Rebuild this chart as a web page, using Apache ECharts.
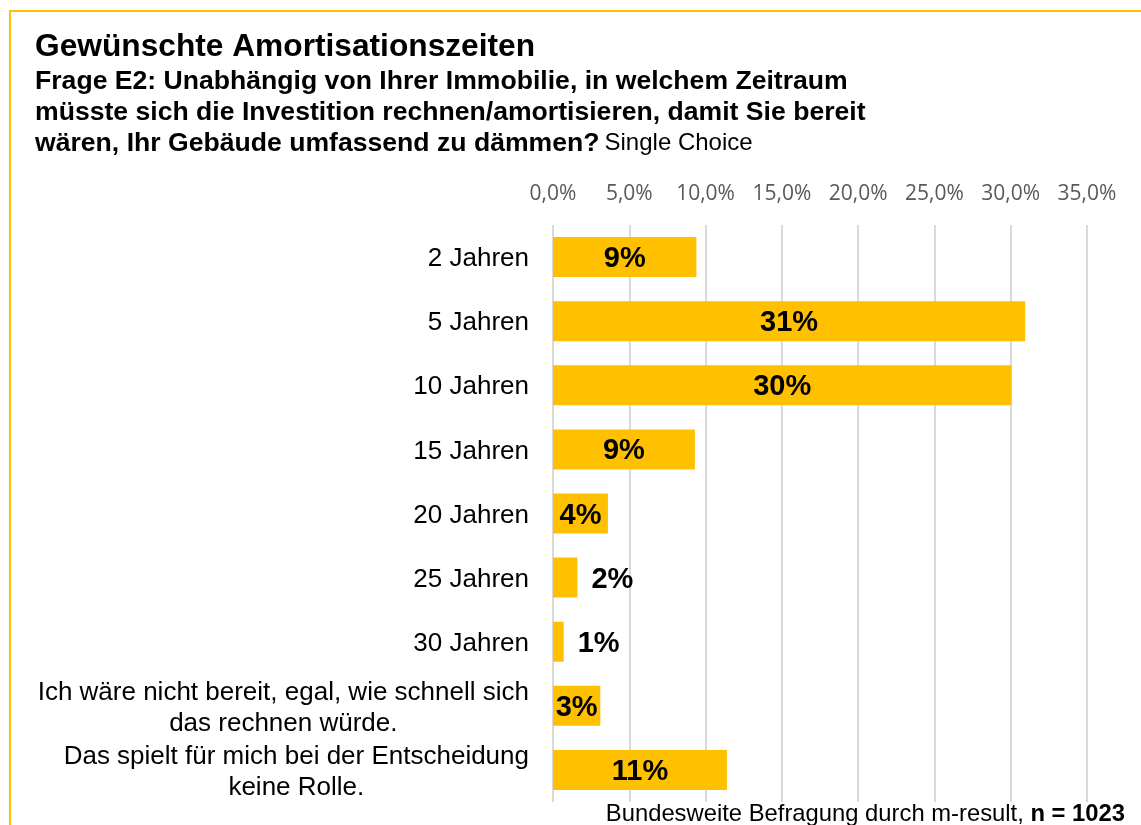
<!DOCTYPE html>
<html>
<head>
<meta charset="utf-8">
<title>Gewünschte Amortisationszeiten</title>
<script src="https://cdn.jsdelivr.net/npm/echarts@6/dist/echarts.min.js"></script>
<style>
  html, body { margin: 0; padding: 0; background: #fff; }
  #chart { width: 1141px; height: 825px; }
</style>
</head>
<body>
<div id="chart"></div>
<script>
// Antwortkategorien (von oben nach unten)
const categories = [
  '2 Jahren',
  '5 Jahren',
  '10 Jahren',
  '15 Jahren',
  '20 Jahren',
  '25 Jahren',
  '30 Jahren',
  'Ich wäre nicht bereit, egal, wie schnell sich\ndas rechnen würde.',
  'Das spielt für mich bei der Entscheidung\nkeine Rolle.'
]
// Anteile in Prozent
const shares = [9.4, 30.95, 30.05, 9.3, 3.6, 1.6, 0.7, 3.1, 11.4]
// X-Achse
const axisMin = 0
const axisMax = 35
const axisStep = 5

const FONT = '"Liberation Sans", Arial, sans-serif'
const YELLOW = '#FFC000'

let mycharts = echarts.init(document.getElementById('chart'))

// kleine Balken bekommen das Label rechts daneben
const barData = shares.map(v => {
  if (v < 2) {
    return { value: v, label: { position: 'right', distance: 14 } }
  }
  return v
})

mycharts.setOption({
  animation: false,
  backgroundColor: '#fff',
  //Rahmen
  graphic: [
    {
      type: 'rect',
      shape: { x: 10, y: 11, width: 1300, height: 1000 },
      style: { fill: 'none', stroke: YELLOW, lineWidth: 2 },
      silent: true
    }
  ],
  title: [
    {
      text: 'Gewünschte Amortisationszeiten',
      left: 35,
      top: 31,
      padding: 0,
      textStyle: { fontFamily: FONT, fontSize: 31.7, fontWeight: 'bold', color: '#000' }
    },
    {
      text: '{b|Frage E2: Unabhängig von Ihrer Immobilie, in welchem Zeitraum}\n' +
        '{b|müsste sich die Investition rechnen/amortisieren, damit Sie bereit}\n' +
        '{b|wären, Ihr Gebäude umfassend zu dämmen?} {n|Single Choice}',
      left: 35,
      top: 66,
      padding: 0,
      textStyle: {
        fontFamily: FONT,
        color: '#000',
        lineHeight: 31,
        rich: {
          b: { fontFamily: FONT, fontSize: 26.6, fontWeight: 'bold', lineHeight: 31, color: '#000' },
          n: { fontFamily: FONT, fontSize: 24, fontWeight: 'normal', lineHeight: 31, color: '#000' }
        }
      }
    },
    {
      text: '{r|Bundesweite Befragung durch m-result, }{b|n = 1023}',
      right: 16,
      top: 802,
      padding: 0,
      textStyle: {
        fontFamily: FONT,
        fontWeight: 'normal',
        rich: {
          r: { fontFamily: FONT, fontSize: 23.8, fontWeight: 'normal', color: '#000' },
          b: { fontFamily: FONT, fontSize: 23.8, fontWeight: 'bold', color: '#000' }
        }
      }
    }
  ],
  grid: {
    left: 553,
    right: 54,
    top: 225,
    bottom: 23
  },
  xAxis: {
    type: 'value',
    position: 'top',
    min: axisMin,
    max: axisMax,
    interval: axisStep,
    axisLine: { show: false },
    axisTick: { show: false },
    splitLine: { show: true, lineStyle: { color: '#D9D9D9', width: 2 } },
    axisLabel: {
      margin: 20,
      color: '#595959',
      fontFamily: '"Open Sans", sans-serif',
      fontSize: 21,
      formatter: v => v.toFixed(1).replace('.', ',') + '%'
    }
  },
  yAxis: {
    type: 'category',
    inverse: true,
    data: categories,
    axisLine: { show: false },
    axisTick: { show: false },
    splitLine: { show: false },
    axisLabel: {
      interval: 0,
      hideOverlap: false,
      showMinLabel: true,
      showMaxLabel: true,
      margin: 24,
      color: '#000',
      fontFamily: FONT,
      fontSize: 26,
      lineHeight: 31,
      align: 'right',
      padding: [4, 0, 0, 0],
      //mehrzeilige Labels zentriert
      formatter: v => v.split('\n').map(l => '{c|' + l + '}').join('\n'),
      rich: {
        c: { align: 'center', fontFamily: FONT, fontSize: 26, lineHeight: 31, color: '#000' }
      }
    }
  },
  series: [
    {
      type: 'bar',
      data: barData,
      barWidth: 40,
      itemStyle: { color: YELLOW },
      label: {
        show: true,
        position: 'inside',
        offset: [0, 2],
        color: '#000',
        fontFamily: FONT,
        fontSize: 29,
        fontWeight: 'bold',
        formatter: p => Math.round(p.value) + '%'
      }
    }
  ]
})
</script>
</body>
</html>
